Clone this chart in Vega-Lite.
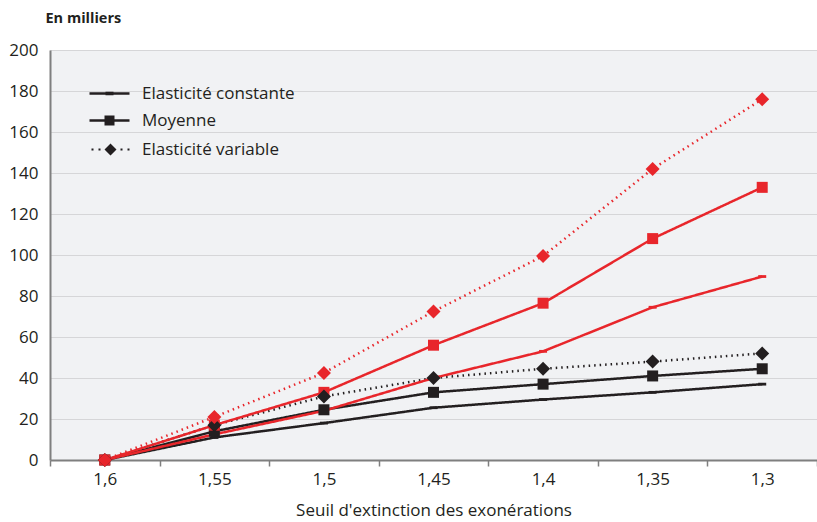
{
  "$schema": "https://vega.github.io/schema/vega-lite/v6.json",
  "width": 767,
  "height": 410,
  "autosize": {"type": "none"},
  "padding": {"left": 50, "top": 50, "right": 0, "bottom": 62},
  "background": "white",
  "config": {
    "view": {"fill": "#f1f2f4", "stroke": null},
    "font": "Open Sans",
    "axis": {"labelFont": "Open Sans", "titleFont": "Open Sans", "labelColor": "#231f20", "titleColor": "#231f20"}
  },
  "data": {"values": [
    {"seuil": "1,6", "groupe": "noir", "type": "Elasticité constante", "value": 0},
    {"seuil": "1,55", "groupe": "noir", "type": "Elasticité constante", "value": 11},
    {"seuil": "1,5", "groupe": "noir", "type": "Elasticité constante", "value": 18},
    {"seuil": "1,45", "groupe": "noir", "type": "Elasticité constante", "value": 25.5},
    {"seuil": "1,4", "groupe": "noir", "type": "Elasticité constante", "value": 29.5},
    {"seuil": "1,35", "groupe": "noir", "type": "Elasticité constante", "value": 33},
    {"seuil": "1,3", "groupe": "noir", "type": "Elasticité constante", "value": 37},
    {"seuil": "1,6", "groupe": "noir", "type": "Moyenne", "value": 0},
    {"seuil": "1,55", "groupe": "noir", "type": "Moyenne", "value": 14},
    {"seuil": "1,5", "groupe": "noir", "type": "Moyenne", "value": 24.5},
    {"seuil": "1,45", "groupe": "noir", "type": "Moyenne", "value": 33},
    {"seuil": "1,4", "groupe": "noir", "type": "Moyenne", "value": 37},
    {"seuil": "1,35", "groupe": "noir", "type": "Moyenne", "value": 41},
    {"seuil": "1,3", "groupe": "noir", "type": "Moyenne", "value": 44.5},
    {"seuil": "1,6", "groupe": "noir", "type": "Elasticité variable", "value": 0},
    {"seuil": "1,55", "groupe": "noir", "type": "Elasticité variable", "value": 17},
    {"seuil": "1,5", "groupe": "noir", "type": "Elasticité variable", "value": 31},
    {"seuil": "1,45", "groupe": "noir", "type": "Elasticité variable", "value": 40},
    {"seuil": "1,4", "groupe": "noir", "type": "Elasticité variable", "value": 44.5},
    {"seuil": "1,35", "groupe": "noir", "type": "Elasticité variable", "value": 48},
    {"seuil": "1,3", "groupe": "noir", "type": "Elasticité variable", "value": 52},
    {"seuil": "1,6", "groupe": "rouge", "type": "Elasticité constante", "value": 0},
    {"seuil": "1,55", "groupe": "rouge", "type": "Elasticité constante", "value": 12.5},
    {"seuil": "1,5", "groupe": "rouge", "type": "Elasticité constante", "value": 24},
    {"seuil": "1,45", "groupe": "rouge", "type": "Elasticité constante", "value": 40},
    {"seuil": "1,4", "groupe": "rouge", "type": "Elasticité constante", "value": 53},
    {"seuil": "1,35", "groupe": "rouge", "type": "Elasticité constante", "value": 74.5},
    {"seuil": "1,3", "groupe": "rouge", "type": "Elasticité constante", "value": 89.5},
    {"seuil": "1,6", "groupe": "rouge", "type": "Moyenne", "value": 0},
    {"seuil": "1,55", "groupe": "rouge", "type": "Moyenne", "value": 17},
    {"seuil": "1,5", "groupe": "rouge", "type": "Moyenne", "value": 33},
    {"seuil": "1,45", "groupe": "rouge", "type": "Moyenne", "value": 56},
    {"seuil": "1,4", "groupe": "rouge", "type": "Moyenne", "value": 76.5},
    {"seuil": "1,35", "groupe": "rouge", "type": "Moyenne", "value": 108},
    {"seuil": "1,3", "groupe": "rouge", "type": "Moyenne", "value": 133},
    {"seuil": "1,6", "groupe": "rouge", "type": "Elasticité variable", "value": 0},
    {"seuil": "1,55", "groupe": "rouge", "type": "Elasticité variable", "value": 21},
    {"seuil": "1,5", "groupe": "rouge", "type": "Elasticité variable", "value": 42.5},
    {"seuil": "1,45", "groupe": "rouge", "type": "Elasticité variable", "value": 72.5},
    {"seuil": "1,4", "groupe": "rouge", "type": "Elasticité variable", "value": 99.5},
    {"seuil": "1,35", "groupe": "rouge", "type": "Elasticité variable", "value": 142},
    {"seuil": "1,3", "groupe": "rouge", "type": "Elasticité variable", "value": 176}
  ]},
  "encoding": {
    "x": {
      "field": "seuil", "type": "nominal", "sort": null,
      "scale": {"paddingInner": 0, "paddingOuter": 0},
      "axis": {
        "title": "Seuil d'extinction des exonérations",
        "titleFontSize": 17, "titleFontWeight": "normal", "titlePadding": 15,
        "labelAngle": 0, "labelFontSize": 17, "labelPadding": 5,
        "tickBand": "extent", "tickSize": 6, "tickColor": "#7f7f7f", "tickWidth": 1.5,
        "domainColor": "#7f7f7f", "domainWidth": 2, "grid": false
      }
    },
    "y": {
      "field": "value", "type": "quantitative",
      "scale": {"domain": [0, 200], "nice": false},
      "axis": {
        "values": [0, 20, 40, 60, 80, 100, 120, 140, 160, 180, 200],
        "title": "En milliers", "titleAngle": 0, "titleAlign": "left", "titleBaseline": "middle",
        "titleX": -5, "titleY": -32, "titleFontSize": 14.5, "titleFontWeight": "bold",
        "labelFontSize": 17, "labelPadding": 12, "ticks": false,
        "domainColor": "#7f7f7f", "domainWidth": 2,
        "gridColor": "#d6d6d8", "gridWidth": 1.2
      }
    },
    "color": {"field": "groupe", "type": "nominal", "scale": {"domain": ["noir", "rouge"], "range": ["#231f20", "#e8262b"]}, "legend": null}
  },
  "layer": [
    {
      "mark": {"type": "line"},
      "encoding": {
        "strokeDash": {
          "field": "type", "type": "nominal",
          "scale": {"domain": ["Elasticité constante", "Moyenne", "Elasticité variable"], "range": [[1, 0], [1, 0], [1.5, 4]]},
          "legend": {
            "title": null, "orient": "none", "legendX": 48, "legendY": 32, "padding": 0,
            "labelFontSize": 17, "labelColor": "#231f20", "labelOffset": 21, "labelFont": "Open Sans",
            "symbolSize": 400, "symbolStrokeWidth": 0, "symbolFillColor": "#231f20",
            "rowPadding": 7,
            "encode": {
              "symbols": {
                "update": {
                  "shape": {"signal": "datum.value === 'Moyenne' ? 'M-2,-0.12H2V0.12H-2ZM-0.5,-0.5H0.5V0.5H-0.5Z' : datum.value === 'Elasticité variable' ? 'M-1.8,-0.1H-1.6V0.1H-1.8ZM-1.1,-0.1H-0.9V0.1H-1.1ZM1.1,-0.1H1.3V0.1H1.1ZM1.8,-0.1H2V0.1H1.8ZM0.1,-0.6L0.7,0L0.1,0.6L-0.5,0Z' : 'M-2,-0.12H2V0.12H-2ZM-0.4,-0.18H0.4V0.18H-0.4Z'"},
                  "strokeWidth": {"value": 0},
                  "fill": {"value": "#231f20"},
                  "opacity": {"value": 1}
                }
              }
            }
          }
        },
        "strokeWidth": {
          "field": "type", "type": "nominal",
          "scale": {"domain": ["Elasticité constante", "Moyenne", "Elasticité variable"], "range": [2.5, 2.5, 1.5]},
          "legend": null
        }
      }
    },
    {
      "transform": [{"filter": "datum.type === 'Elasticité constante'"}],
      "mark": {"type": "point", "filled": true, "opacity": 1, "shape": "M-1,-0.35H1V0.35H-1Z", "size": 64}
    },
    {
      "transform": [{"filter": "datum.type === 'Moyenne'"}],
      "mark": {"type": "point", "filled": true, "opacity": 1, "shape": "square", "size": 121}
    },
    {
      "transform": [{"filter": "datum.type === 'Elasticité variable'"}],
      "mark": {"type": "point", "filled": true, "opacity": 1, "shape": "diamond", "size": 196}
    }
  ]
}
